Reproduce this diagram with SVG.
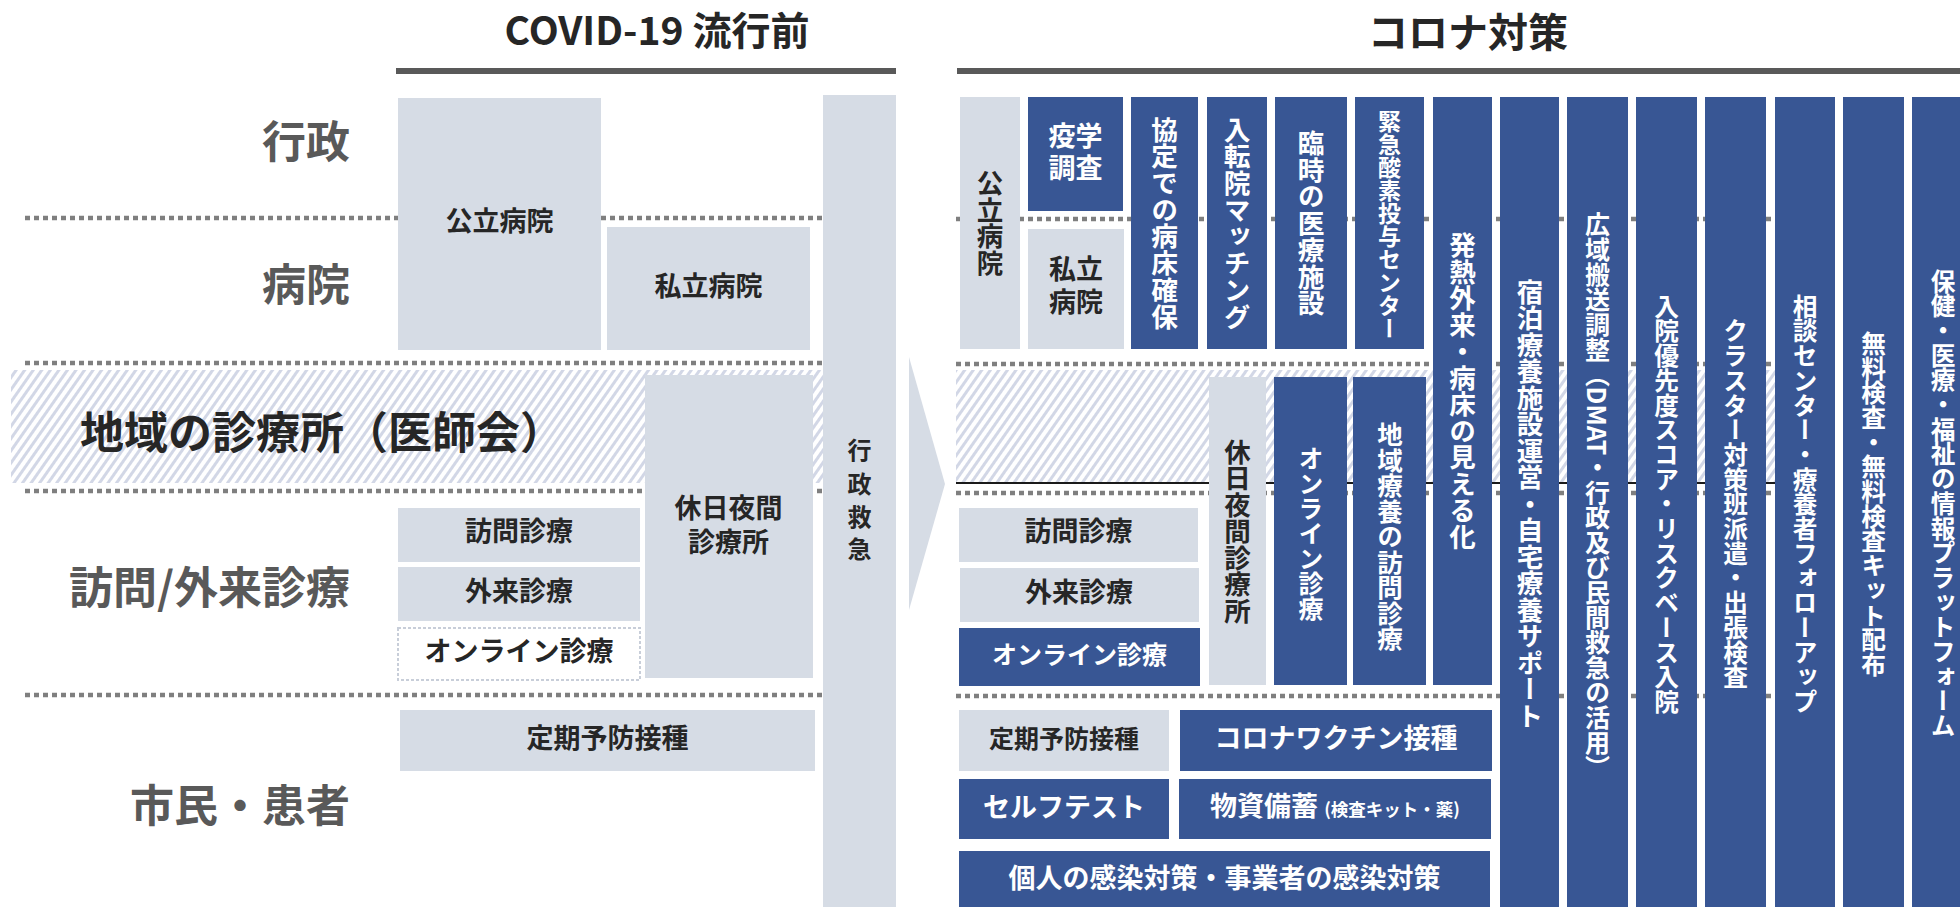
<svg xmlns="http://www.w3.org/2000/svg" width="1960" height="907" viewBox="0 0 1960 907">
<defs>
<pattern id="hatch" patternUnits="userSpaceOnUse" width="7" height="7" patternTransform="rotate(35)">
<rect width="7" height="7" fill="#ffffff"/>
<rect width="3" height="7" fill="#d2d7e6"/>
</pattern>
</defs>
<style>
text { font-family: "Noto Sans CJK JP", "Noto Sans CJK SC", sans-serif; font-weight: 700; }
.lt { fill: #d6dce5; }
.dk { fill: #385694; }
.t { fill: #262626; text-anchor: middle; }
.w { fill: #ffffff; text-anchor: middle; }
.v { writing-mode: vertical-rl; text-anchor: middle; }
.lab { fill: #595959; font-size: 44px; text-anchor: end; }
.dot { stroke: #7f7f7f; stroke-width: 4.5; stroke-dasharray: 5 4; fill: none; }
.hdr { fill: #595959; }
.ttl { fill: #262626; text-anchor: middle; }
</style>
<rect width="1960" height="907" fill="#ffffff"/>

<g id="headers">
<text class="ttl" x="657" y="45" font-size="39">COVID-19 流行前</text>
<rect class="hdr" x="396" y="68" width="500" height="6"/>
<text class="ttl" x="1468" y="46.5" font-size="40">コロナ対策</text>
<rect class="hdr" x="957" y="68" width="1003" height="6"/>
</g>

<g id="bands">
<rect x="11" y="370" width="812" height="113" fill="url(#hatch)"/>
<rect x="956" y="370" width="844" height="113" fill="url(#hatch)"/>
<line x1="956" y1="483" x2="1775" y2="483" stroke="#1a1a1a" stroke-width="2"/>
</g>

<g id="dividers">
<line class="dot" x1="25" y1="218" x2="823" y2="218"/>
<line class="dot" x1="25" y1="363" x2="823" y2="363"/>
<line class="dot" x1="25" y1="491" x2="823" y2="491"/>
<line class="dot" x1="25" y1="695" x2="823" y2="695"/>
<line class="dot" x1="956" y1="219" x2="1775" y2="219"/>
<line class="dot" x1="956" y1="364" x2="1775" y2="364"/>
<line class="dot" x1="956" y1="493" x2="1775" y2="493"/>
<line class="dot" x1="956" y1="696" x2="1775" y2="696"/>
</g>

<g id="row-labels">
<text class="lab" x="350" y="157.5">行政</text>
<text class="lab" x="350" y="300.5">病院</text>
<text class="lab" x="350" y="603.5">訪問/外来診療</text>
<text class="lab" x="350" y="821.5">市民・患者</text>
<text x="80" y="448.5" font-size="44" fill="#262626">地域の診療所（医師会）</text>
</g>

<g id="pre-public-hospital"><rect class="lt" x="398" y="98" width="203" height="252"/><text class="t" x="499.5" y="231" font-size="27">公立病院</text></g>
<g id="pre-private-hospital"><rect class="lt" x="607" y="227" width="203" height="123"/><text class="t" x="708.5" y="296" font-size="27">私立病院</text></g>
<g id="pre-emergency"><rect class="lt" x="823" y="95" width="73" height="812"/>
<text fill="#262626" font-size="24" text-anchor="middle"><tspan x="859.5" y="458.5">行</tspan><tspan x="859.5" y="493">政</tspan><tspan x="859.5" y="526">救</tspan><tspan x="859.5" y="558">急</tspan></text></g>
<g id="pre-holiday-clinic"><rect class="lt" x="645" y="375" width="168" height="303"/>
<text class="t" x="728.5" y="518" font-size="27">休日夜間</text><text class="t" x="728.5" y="551.5" font-size="27">診療所</text></g>
<g id="pre-home-visit"><rect class="lt" x="398" y="508" width="242" height="54"/><text class="t" x="519" y="541" font-size="27">訪問診療</text></g>
<g id="pre-outpatient"><rect class="lt" x="398" y="567" width="242" height="54"/><text class="t" x="519" y="601" font-size="27">外来診療</text></g>
<g id="pre-online"><rect x="398" y="628" width="242" height="52" fill="#ffffff" stroke="#c8ced9" stroke-width="2" stroke-dasharray="3 2"/><text class="t" x="519" y="661" font-size="27">オンライン診療</text></g>
<g id="pre-vaccination"><rect class="lt" x="400" y="710" width="415" height="61"/><text class="t" x="607.5" y="748" font-size="27">定期予防接種</text></g>

<g id="connectors">
<polygon points="909,357 945,484 909,610" fill="#d6dce5"/>
</g>

<g id="c-public-hospital"><rect class="lt" x="960" y="97" width="60" height="252"/><text class="t v" x="990" y="223" font-size="26.5">公立病院</text></g>
<g id="c-epi"><rect class="dk" x="1028" y="97" width="95" height="114"/><text class="w" x="1075.5" y="146" font-size="27">疫学</text><text class="w" x="1075.5" y="178" font-size="27">調査</text></g>
<g id="c-private-hospital"><rect class="lt" x="1028" y="229" width="96" height="120"/><text class="t" x="1076" y="279" font-size="27">私立</text><text class="t" x="1076" y="312" font-size="27">病院</text></g>
<g id="c-beds"><rect class="dk" x="1131" y="97" width="67" height="252"/><text class="w v" x="1164.5" y="223" font-size="26.7">協定での病床確保</text></g>
<g id="c-matching"><rect class="dk" x="1207" y="97" width="60" height="252"/><text class="w v" x="1237" y="223" font-size="26.7">入転院マッチング</text></g>
<g id="c-temp-facility"><rect class="dk" x="1275" y="97" width="72" height="252"/><text class="w v" x="1311" y="223" font-size="26.7">臨時の医療施設</text></g>
<g id="c-oxygen"><rect class="dk" x="1355" y="97" width="69" height="252"/><text class="w v" x="1389.5" y="224.5" font-size="23">緊急酸素投与センター</text></g>
<g id="c-fever"><rect class="dk" x="1433" y="97" width="59" height="588"/><text class="w v" x="1462.5" y="391" font-size="26.5">発熱外来・病床の見える化</text></g>
<g id="c-lodging"><rect class="dk" x="1500" y="97" width="59" height="810"/><text class="w v" x="1530" y="503.5" font-size="26.5">宿泊療養施設運営・自宅療養サポート</text></g>
<g id="c-transport"><rect class="dk" x="1567" y="97" width="61" height="810"/><text class="w v" x="1597.5" y="496" font-size="25">広域搬送調整（DMAT・行政及び民間救急の活用）</text></g>
<g id="c-priority"><rect class="dk" x="1636" y="97" width="61" height="810"/><text class="w v" x="1666.5" y="504" font-size="24.7">入院優先度スコア・リスクベース入院</text></g>
<g id="c-cluster"><rect class="dk" x="1705" y="97" width="61" height="810"/><text class="w v" x="1735.5" y="504" font-size="24.7">クラスター対策班派遣・出張検査</text></g>
<g id="c-consult"><rect class="dk" x="1775" y="97" width="60" height="810"/><text class="w v" x="1805" y="504" font-size="24.7">相談センター・療養者フォローアップ</text></g>
<g id="c-free-test"><rect class="dk" x="1843" y="97" width="61" height="810"/><text class="w v" x="1873.5" y="504" font-size="24.7">無料検査・無料検査キット配布</text></g>
<g id="c-platform"><rect class="dk" x="1912" y="97" width="60" height="810"/><text class="w v" x="1943" y="503.5" font-size="24.7">保健・医療・福祉の情報プラットフォーム</text></g>

<g id="c-holiday-clinic"><rect class="lt" x="1209" y="377" width="57" height="308"/><text class="t v" x="1237.5" y="531" font-size="26.5">休日夜間診療所</text></g>
<g id="c-online-v"><rect class="dk" x="1274" y="377" width="73" height="308"/><text class="w v" x="1311" y="533" font-size="25">オンライン診療</text></g>
<g id="c-regional-visit"><rect class="dk" x="1353" y="377" width="73" height="308"/><text class="w v" x="1390" y="536.5" font-size="25.5">地域療養の訪問診療</text></g>

<g id="c-home-visit"><rect class="lt" x="959" y="508" width="239" height="54"/><text class="t" x="1078.5" y="541" font-size="27">訪問診療</text></g>
<g id="c-outpatient"><rect class="lt" x="960" y="568" width="239" height="54"/><text class="t" x="1079" y="601.5" font-size="27">外来診療</text></g>
<g id="c-online"><rect class="dk" x="959" y="628" width="241" height="58"/><text class="w" x="1079.5" y="663.5" font-size="25">オンライン診療</text></g>
<g id="c-vaccination"><rect class="lt" x="959" y="710" width="210" height="61"/><text class="t" x="1064" y="747.5" font-size="25">定期予防接種</text></g>
<g id="c-covid-vaccine"><rect class="dk" x="1180" y="710" width="312" height="61"/><text class="w" x="1336" y="748" font-size="27">コロナワクチン接種</text></g>
<g id="c-selftest"><rect class="dk" x="959" y="779" width="210" height="60"/><text class="w" x="1064" y="817" font-size="27">セルフテスト</text></g>
<g id="c-stockpile"><rect class="dk" x="1179" y="779" width="312" height="60"/><text class="w" x="1335" y="816" font-size="27">物資備蓄 <tspan font-size="17.5">(検査キット・薬)</tspan></text></g>
<g id="c-infection"><rect class="dk" x="959" y="851" width="531" height="56"/><text class="w" x="1224.5" y="887.5" font-size="27">個人の感染対策・事業者の感染対策</text></g>
</svg>
